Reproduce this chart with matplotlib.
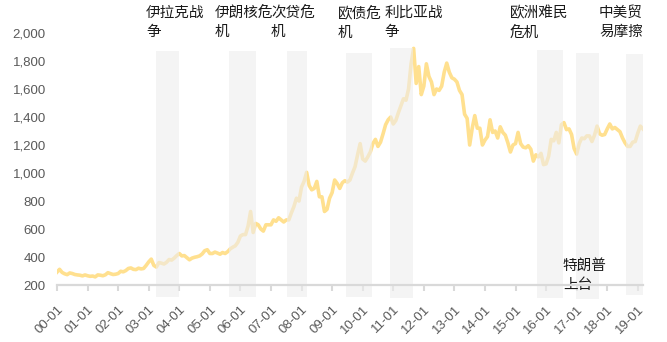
import numpy as np
import matplotlib.pyplot as plt
import matplotlib.transforms as mtransforms

# Gold price (USD/oz), monthly readings from Jan 2000 to Mar 2019
prices = [
    # 2000
    292, 312, 290, 280, 274, 286, 282, 275, 272, 270, 265, 272,
    # 2001
    266, 262, 264, 258, 272, 270, 266, 273, 288, 281, 275, 277,
    # 2002
    282, 298, 294, 303, 318, 322, 312, 310, 320, 315, 318, 340,
    # 2003
    365, 385, 340, 328, 360, 356, 350, 362, 382, 378, 392, 410,
    # 2004
    425, 408, 410, 395, 380, 392, 398, 402, 408, 422, 445, 452,
    # 2005
    425, 425, 435, 428, 420, 432, 425, 438, 458, 470, 480, 505,
    # 2006
    550, 560, 560, 620, 725, 575, 640, 630, 600, 585, 630, 630,
    # 2007
    630, 665, 655, 680, 665, 650, 665, 665, 715, 760, 820, 800,
    # 2008
    900, 940, 1005, 910, 880, 890, 940, 830, 830, 725, 740, 820,
    # 2009
    860, 950, 925, 890, 930, 945, 935, 950, 1000, 1045, 1130, 1210,
    # 2010
    1100, 1085, 1115, 1150, 1210, 1240, 1190, 1220, 1280, 1345, 1380, 1400,
    # 2011
    1350, 1375, 1430, 1480, 1530, 1520, 1600, 1780, 1890, 1640, 1760, 1560,
    # 2012
    1620, 1780, 1690, 1650, 1560, 1600, 1590, 1620, 1720, 1785, 1720, 1680,
    # 2013
    1670, 1650, 1590, 1560, 1420, 1390, 1200, 1320, 1410, 1320, 1320, 1200,
    # 2014
    1235, 1260, 1380, 1290, 1300, 1250, 1330, 1290, 1270, 1215, 1150, 1200,
    # 2015
    1210, 1290, 1210, 1185, 1180, 1195, 1170, 1085, 1130, 1115, 1140, 1060,
    # 2016
    1065, 1120, 1240, 1230, 1290, 1215, 1345, 1360, 1310, 1315, 1275, 1175,
    # 2017
    1135, 1210, 1250, 1245, 1265, 1265, 1225, 1270, 1335, 1280, 1270, 1275,
    # 2018
    1315, 1350, 1315, 1325, 1310, 1295, 1250, 1215, 1190, 1190, 1220, 1225,
    # 2019
    1285, 1335, 1315,
]

tick_labels = ['%02d-01' % y for y in range(20)]

# Event windows (decimal years) and their shaded extent in price units
event_start = [2003.24, 2005.62, 2007.52, 2009.47, 2010.89, 2015.69, 2016.97, 2018.63]
event_end = [2004.00, 2006.51, 2008.18, 2010.32, 2011.63, 2016.56, 2017.73, 2019.17]
band_top = [1871, 1871, 1871, 1857, 1893, 1879, 1857, 1850]
band_bottom = [114, 114, 114, 114, 107, 107, 100, 129]

# Event captions: (x position in years, text, top of text in pixels from the top)
event_names = ['伊拉克战\n争', '伊朗核危\n机', '次贷危\n机', '欧债危\n机',
               '利比亚战\n争', '欧洲难民\n危机', '特朗普\n上台', '中美贸\n易摩擦']
label_x = [2002.91, 2005.17, 2007.00, 2009.19, 2010.72, 2014.81, 2016.55, 2017.73]
label_top_px = [6, 6, 6, 6, 6, 6, 259, 6]

years = 2000 + np.arange(len(prices)) / 12.0

fig = plt.figure(figsize=(6.67, 3.42), dpi=100)
ax = fig.add_axes([57 / 667, 1 - 285 / 342, 586 / 667, 252 / 342])

ax.plot(years, prices, color='#ffe08f', lw=2.6, solid_joinstyle='round', zorder=2)

ax.bar(event_start, np.array(band_top) - np.array(band_bottom),
       width=np.array(event_end) - np.array(event_start),
       bottom=band_bottom, align='edge', color='#ededed', alpha=0.6,
       lw=0, zorder=3, clip_on=False)

ax.set_xlim(2000, 2019.17)
ax.set_ylim(200, 2000)
ax.set_yticks(range(200, 2001, 200))
ax.set_yticklabels(['{:,}'.format(v) for v in range(200, 2001, 200)])
ax.set_xticks(range(2000, 2020))
ax.set_xticklabels(tick_labels, rotation=45, ha='right', va='top',
                   rotation_mode='anchor')

for side in ['left', 'top', 'right']:
    ax.spines[side].set_visible(False)
ax.spines['bottom'].set_color('#d9d9d9')
ax.spines['bottom'].set_linewidth(1.6)
ax.spines['bottom'].set_zorder(4)

ax.tick_params(axis='y', length=0, pad=8, labelsize=9.5, labelcolor='#595959')
ax.tick_params(axis='x', length=4, width=1.5, color='#d9d9d9', pad=9,
               labelsize=9.5, labelcolor='#595959')
for lab in ax.get_xticklabels() + ax.get_yticklabels():
    lab.set_family('Liberation Sans')

trans = mtransforms.blended_transform_factory(ax.transData, fig.transFigure)
for x, name, top in zip(label_x, event_names, label_top_px):
    ax.text(x, 1 - top / 342, name, transform=trans, ha='left', va='top',
            fontsize=10.5, family=['Noto Sans CJK SC', 'DejaVu Sans'],
            color='#1a1a1a', linespacing=1.45)

fig.savefig('out.png', dpi=100)
